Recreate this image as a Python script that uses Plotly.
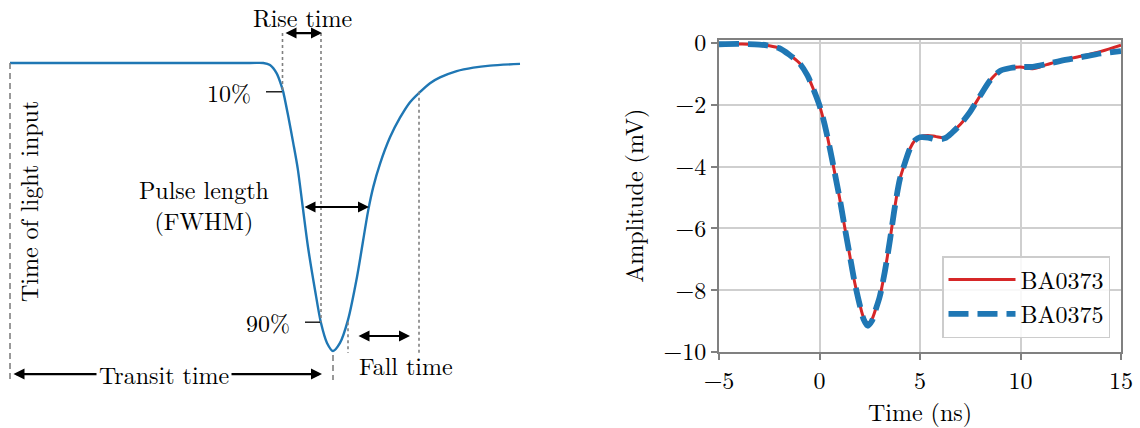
import plotly.graph_objects as go

# ---------------- data: right panel (measured pulses) ----------------
time_ns = [-5, -4, -3, -2.5, -2, -1.5, -1, -0.6, -0.3, 0, 0.25, 0.5, 0.75, 1, 1.25, 1.5,
           1.75, 2, 2.2, 2.4, 2.6, 2.8, 3, 3.25, 3.5, 3.75, 4, 4.25, 4.5, 4.75, 5, 5.4,
           5.8, 6.25, 6.6, 7, 7.5, 8, 8.5, 9, 9.5, 10, 10.6, 11.3, 12, 13, 14, 15]
amp_ba0373 = [-0.02, -0.03, -0.05, -0.09, -0.17, -0.38, -0.65, -1.05, -1.5, -2.02, -2.62, -3.36,
              -4.18, -5.02, -5.95, -6.85, -7.75, -8.45, -8.9, -9.06, -8.95, -8.6, -8.2, -7.4,
              -6.4, -5.3, -4.4, -3.88, -3.42, -3.15, -3.03, -2.99, -3.03, -3.05, -2.88, -2.64,
              -2.22, -1.7, -1.2, -0.9, -0.81, -0.78, -0.83, -0.7, -0.57, -0.43, -0.27, -0.07]
amp_ba0375 = [-0.04, -0.03, -0.05, -0.09, -0.17, -0.38, -0.65, -1.05, -1.5, -2.02, -2.62, -3.36,
              -4.18, -5.02, -5.95, -6.85, -7.75, -8.47, -8.95, -9.15, -9.0, -8.62, -8.2, -7.4,
              -6.4, -5.3, -4.4, -3.88, -3.42, -3.15, -3.05, -3.06, -3.12, -3.08, -2.9, -2.64,
              -2.22, -1.7, -1.2, -0.9, -0.81, -0.78, -0.77, -0.68, -0.58, -0.46, -0.34, -0.26]
series_names = ["BA0373", "BA0375"]
x_ticks = [-5, 0, 5, 10, 15]
y_ticks = [0, -2, -4, -6, -8, -10]

# ---------------- data: left panel (schematic pulse, arbitrary units) ----------------
pulse_t = [0, 24.0, 25.33, 26.0, 26.67, 27.17, 27.33, 27.83, 28.33, 28.77, 29.3, 29.8, 30.5,
           31.1, 31.7, 32.3, 33.0, 33.8, 34.7, 35.83, 36.33, 37.0, 38.0, 39.0, 40.0, 40.9,
           42.0, 43.0, 44.67, 46.33, 48.0, 51.0]
pulse_amp = [0, 0, 0, -0.007, -0.036, -0.082, -0.101, -0.186, -0.279, -0.366, -0.507, -0.639,
             -0.788, -0.903, -0.972, -1.0, -0.972, -0.892, -0.743, -0.51, -0.43, -0.35, -0.258,
             -0.19, -0.136, -0.104, -0.07, -0.05, -0.028, -0.016, -0.009, -0.003]
t_light = 0.0
t_10_rise, t_50_rise, t_90_rise = 27.25, 29.3, 31.1
t_peak = 32.3
t_90_fall, t_50_fall, t_10_fall = 33.8, 35.9, 40.9
lvl10, lvl50, lvl90 = -0.1, -0.5, -0.9
level_labels = ["10%", "90%"]

FONT = ("'Latin Modern Roman', 'CMU Serif', 'Liberation Serif', 'DejaVu Serif', 'Noto Serif', "
        "Tinos, 'Times New Roman', FreeSerif, serif")
FS = 24
BLUE = "#1f77b4"
RED = "#d62728"
GRAY = "#808080"

fig = go.Figure()

# left schematic
fig.add_trace(go.Scatter(x=pulse_t, y=pulse_amp, mode="lines",
                         line=dict(color=BLUE, width=2.4, shape="spline", smoothing=0.8),
                         showlegend=False, xaxis="x", yaxis="y", hoverinfo="skip"))

# right measured pulses
fig.add_trace(go.Scatter(x=time_ns, y=amp_ba0373, mode="lines", name=series_names[0],
                         line=dict(color=RED, width=3, shape="spline", smoothing=0.8),
                         xaxis="x2", yaxis="y2"))
fig.add_trace(go.Scatter(x=time_ns, y=amp_ba0375, mode="lines", name=series_names[1],
                         line=dict(color=BLUE, width=5.8, dash="20px,9px", shape="spline", smoothing=0.8),
                         xaxis="x2", yaxis="y2"))

shapes = []
def vline(x, y0, y1, dash, w=1.6):
    shapes.append(dict(type="line", xref="x", yref="y", x0=x, x1=x, y0=y0, y1=y1,
                       line=dict(color=GRAY, width=w, dash=dash)))
def hline(x0, x1, y, color="black", w=1.3):
    shapes.append(dict(type="line", xref="x", yref="y", x0=x0, x1=x1, y0=y, y1=y,
                       line=dict(color=color, width=w)))

y_rise_arrow = 0.104
y_fall_arrow = -0.948
y_transit = -1.08
y_bottom = -1.101

vline(t_light, 0, y_bottom, "6px,4px")
vline(t_peak, -1.014, y_bottom, "6px,4px")
vline(t_10_rise, y_rise_arrow, lvl10, "dot")
vline(t_90_rise, y_rise_arrow, lvl90, "dot")
vline(t_90_fall, lvl90, -1.007, "dot")
vline(t_10_fall, lvl10, -1.007, "dot")
hline(t_10_rise - 1.65, t_10_rise - 0.05, lvl10)
hline(t_90_rise - 1.6, t_90_rise - 0.1, lvl90)

annotations = []
def arrow(x0, x1, y):
    annotations.append(dict(x=x1, y=y, ax=x0, ay=y, xref="x", yref="y", axref="x", ayref="y",
                            text="", showarrow=True, arrowhead=2, startarrowhead=2,
                            arrowside="end+start", arrowsize=1, startarrowsize=1, arrowwidth=2.2,
                            arrowcolor="black", standoff=0, startstandoff=0))
def label(x, y, text, xanchor="center", angle=0, bg=None):
    d = dict(x=x, y=y, xref="x", yref="y", text=text, showarrow=False, xanchor=xanchor,
             yanchor="middle", textangle=angle, font=dict(family=FONT, size=FS, color="black"))
    if bg:
        d.update(bgcolor=bg, borderpad=2)
    annotations.append(d)

arrow(t_10_rise + 0.15, t_90_rise + 0.1, y_rise_arrow)
arrow(t_50_rise, t_50_fall, lvl50)
arrow(t_90_fall + 0.9, t_10_fall - 0.9, y_fall_arrow)
arrow(t_light + 0.2, t_peak - 1.1, y_transit)

label(29.2, 0.16, "Rise time")
label(19.4, -0.49, "Pulse length<br>(FWHM)")
label(39.6, -1.05, "Fall time")
label(15.4, y_transit, "Transit time", bg="white")
label(1.8, -0.483, "Time of light input", angle=-90)
label(t_10_rise - 2.95, lvl10, level_labels[0], xanchor="right")
label(t_90_rise - 2.9, lvl90, level_labels[1], xanchor="right")

fig.update_layout(
    template="none",
    width=1140, height=428, autosize=False,
    margin=dict(l=0, r=0, t=0, b=0, pad=0, autoexpand=False),
    paper_bgcolor="white", plot_bgcolor="white",
    font=dict(family=FONT, size=FS, color="black"),
    shapes=shapes, annotations=annotations,
    xaxis=dict(domain=[0, 530 / 1140], range=[-1, 52], visible=False, automargin=False),
    yaxis=dict(domain=[0, 1], range=[-1.2674, 0.21875], visible=False, automargin=False),
    xaxis2=dict(domain=[719 / 1140, 1121 / 1140], range=[-5, 15], anchor="y2", automargin=False,
                tickvals=x_ticks, ticks="outside", ticklen=6, tickwidth=1.5, tickcolor=GRAY,
                showline=True, linecolor=GRAY, linewidth=2, mirror=True,
                showgrid=True, gridcolor="#cfcfcf", gridwidth=1.5, zeroline=False,
                title=dict(text="Time (ns)", standoff=6, font=dict(family=FONT, size=FS)),
                tickfont=dict(family=FONT, size=FS)),
    yaxis2=dict(domain=[(428 - 352) / 428, (428 - 39.5) / 428], range=[-10, 0.113], anchor="x2",
                automargin=False,
                tickvals=y_ticks, ticks="outside", ticklen=6, tickwidth=1.5, tickcolor=GRAY,
                showline=True, linecolor=GRAY, linewidth=2, mirror=True,
                showgrid=True, gridcolor="#cfcfcf", gridwidth=1.5, zeroline=False,
                title=dict(text="Amplitude (mV)", standoff=13, font=dict(family=FONT, size=FS)),
                tickfont=dict(family=FONT, size=FS)),
    legend=dict(x=1110 / 1140, y=(428 - 338) / 428, xanchor="right", yanchor="bottom",
                bgcolor="rgba(255,255,255,0.85)", bordercolor="#cccccc", borderwidth=1.5,
                itemwidth=67, font=dict(family=FONT, size=FS), tracegroupgap=0),
    hovermode=False,
)

fig.write_html("out.html")
